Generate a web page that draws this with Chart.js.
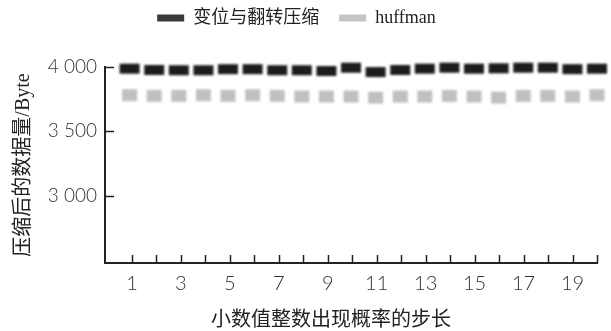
<!DOCTYPE html>
<html>
<head>
<meta charset="utf-8">
<script src="https://cdn.jsdelivr.net/npm/chart.js@4.4.1/dist/chart.umd.min.js"></script>
<style>
  html, body { margin: 0; padding: 0; background: #fff; }
  #wrap { width: 611px; height: 331px; }
</style>
</head>
<body>
<div id="wrap"><canvas id="c"></canvas></div>
<script>
// --- data ---
const steps = [1, 2, 3, 4, 5, 6, 7, 8, 9, 10, 11, 12, 13, 14, 15, 16, 17, 18, 19, 20];
const shiftFlip = [3987, 3977, 3975, 3975, 3983, 3983, 3975, 3975, 3969, 3995, 3961, 3977, 3987, 3995, 3987, 3990, 3995, 3995, 3983, 3987];
const huffman = [3781, 3775, 3775, 3781, 3775, 3781, 3775, 3770, 3770, 3770, 3762, 3770, 3770, 3775, 3770, 3762, 3775, 3775, 3770, 3781];
const yTicks = [3000, 3500, 4000];
const seriesNames = ['变位与翻转压缩', 'huffman'];

const ink = '#222';

// blurry scanned-looking markers
function makeMark(w, h, color, blur) {
    const c = document.createElement('canvas');
    c.width = w + 6; c.height = h + 6;
    const g = c.getContext('2d');
    g.filter = 'blur(' + blur + 'px)';
    g.fillStyle = color;
    g.fillRect(3, 3, w, h);
    return c;
}
const darkMark = makeMark(20, 10, '#1c1c1c', 0.8);
const greyMark = makeMark(15, 12, '#c0c0c0', 1);

// inside tick marks on both axes
const innerTicks = {
    id: 'innerTicks',
    afterDraw(chart) {
        const { ctx, chartArea, scales } = chart;
        ctx.save();
        ctx.strokeStyle = ink;
        ctx.lineWidth = 1.5;
        ctx.beginPath();
        steps.forEach(v => {
            const x = Math.round(scales.x.getPixelForValue(v)) + 0.5;
            ctx.moveTo(x, chartArea.bottom);
            ctx.lineTo(x, chartArea.bottom - 8);
        });
        yTicks.forEach(v => {
            const y = Math.round(scales.y.getPixelForValue(v)) + 0.5;
            ctx.moveTo(chartArea.left, y);
            ctx.lineTo(chartArea.left + 9, y);
        });
        ctx.stroke();
        ctx.restore();
    }
};

// nudge the legend a little off centre, as in the figure
const legendShift = {
    id: 'legendShift',
    afterLayout(chart) {
        chart.legend.left -= 2;
        chart.legend.right -= 2;
    }
};

new Chart(document.getElementById('c'), {
    type: 'line',
    data: {
        datasets: [
            {
                label: seriesNames[0],
                data: steps.map((s, i) => ({ x: s, y: shiftFlip[i] })),
                showLine: false,
                pointStyle: darkMark,
                backgroundColor: '#3a3a3a',
                borderColor: '#3a3a3a',
                borderWidth: 0,
                clip: false
            },
            {
                label: seriesNames[1],
                data: steps.map((s, i) => ({ x: s, y: huffman[i] })),
                showLine: false,
                pointStyle: greyMark,
                backgroundColor: '#c4c4c4',
                borderColor: '#c4c4c4',
                borderWidth: 0,
                clip: false
            }
        ]
    },
    options: {
        responsive: true,
        maintainAspectRatio: false,
        animation: false,
        layout: { padding: { top: -11, left: 0, right: 14, bottom: 0 } },
        plugins: {
            tooltip: { enabled: false },
            legend: {
                position: 'top',
                labels: {
                    boxWidth: 27,
                    boxHeight: 7,
                    padding: 20,
                    color: ink,
                    font: { family: "'Liberation Serif', 'Noto Sans CJK SC'", size: 18 }
                }
            }
        },
        scales: {
            // empty spacer between legend and plot
            gap: {
                type: 'linear',
                position: 'top',
                afterFit: s => { s.height = 30; },
                grid: { display: false, drawTicks: false },
                border: { display: false },
                ticks: { display: false }
            },
            x: {
                type: 'linear',
                min: -0.1,
                max: 20,
                afterBuildTicks: s => { s.ticks = steps.map(v => ({ value: v })); },
                afterFit: s => { s.height = 68; },
                grid: { display: false, drawTicks: false },
                border: { display: true, color: ink, width: 2 },
                ticks: {
                    autoSkip: false,
                    maxRotation: 0,
                    padding: 9,
                    color: '#333',
                    font: { family: 'Lato', weight: 300, size: 20 },
                    callback: v => (v % 2 === 1 ? String(v) : '')
                },
                title: {
                    display: true,
                    text: '小数值整数出现概率的步长　　',
                    color: ink,
                    padding: { top: 0, bottom: 1 },
                    font: { family: "'Noto Sans CJK SC'", size: 20 }
                }
            },
            y: {
                min: 2475,
                max: 4000,
                afterBuildTicks: s => { s.ticks = yTicks.map(v => ({ value: v })); },
                afterFit: s => { s.width = 105; },
                grid: { display: false, drawTicks: false },
                border: { display: true, color: ink, width: 2 },
                ticks: {
                    padding: 8,
                    color: '#333',
                    font: { family: 'Lato', weight: 300, size: 19 },
                    callback: v => String(v).replace(/(\d)(\d{3})$/, '$1 $2')
                },
                title: {
                    display: true,
                    text: '压缩后的数据量/Byte',
                    color: ink,
                    padding: { top: 12, bottom: 0 },
                    font: { family: "'Liberation Serif', 'Noto Sans CJK SC'", size: 20 }
                }
            }
        }
    },
    plugins: [innerTicks, legendShift]
});
</script>
</body>
</html>
